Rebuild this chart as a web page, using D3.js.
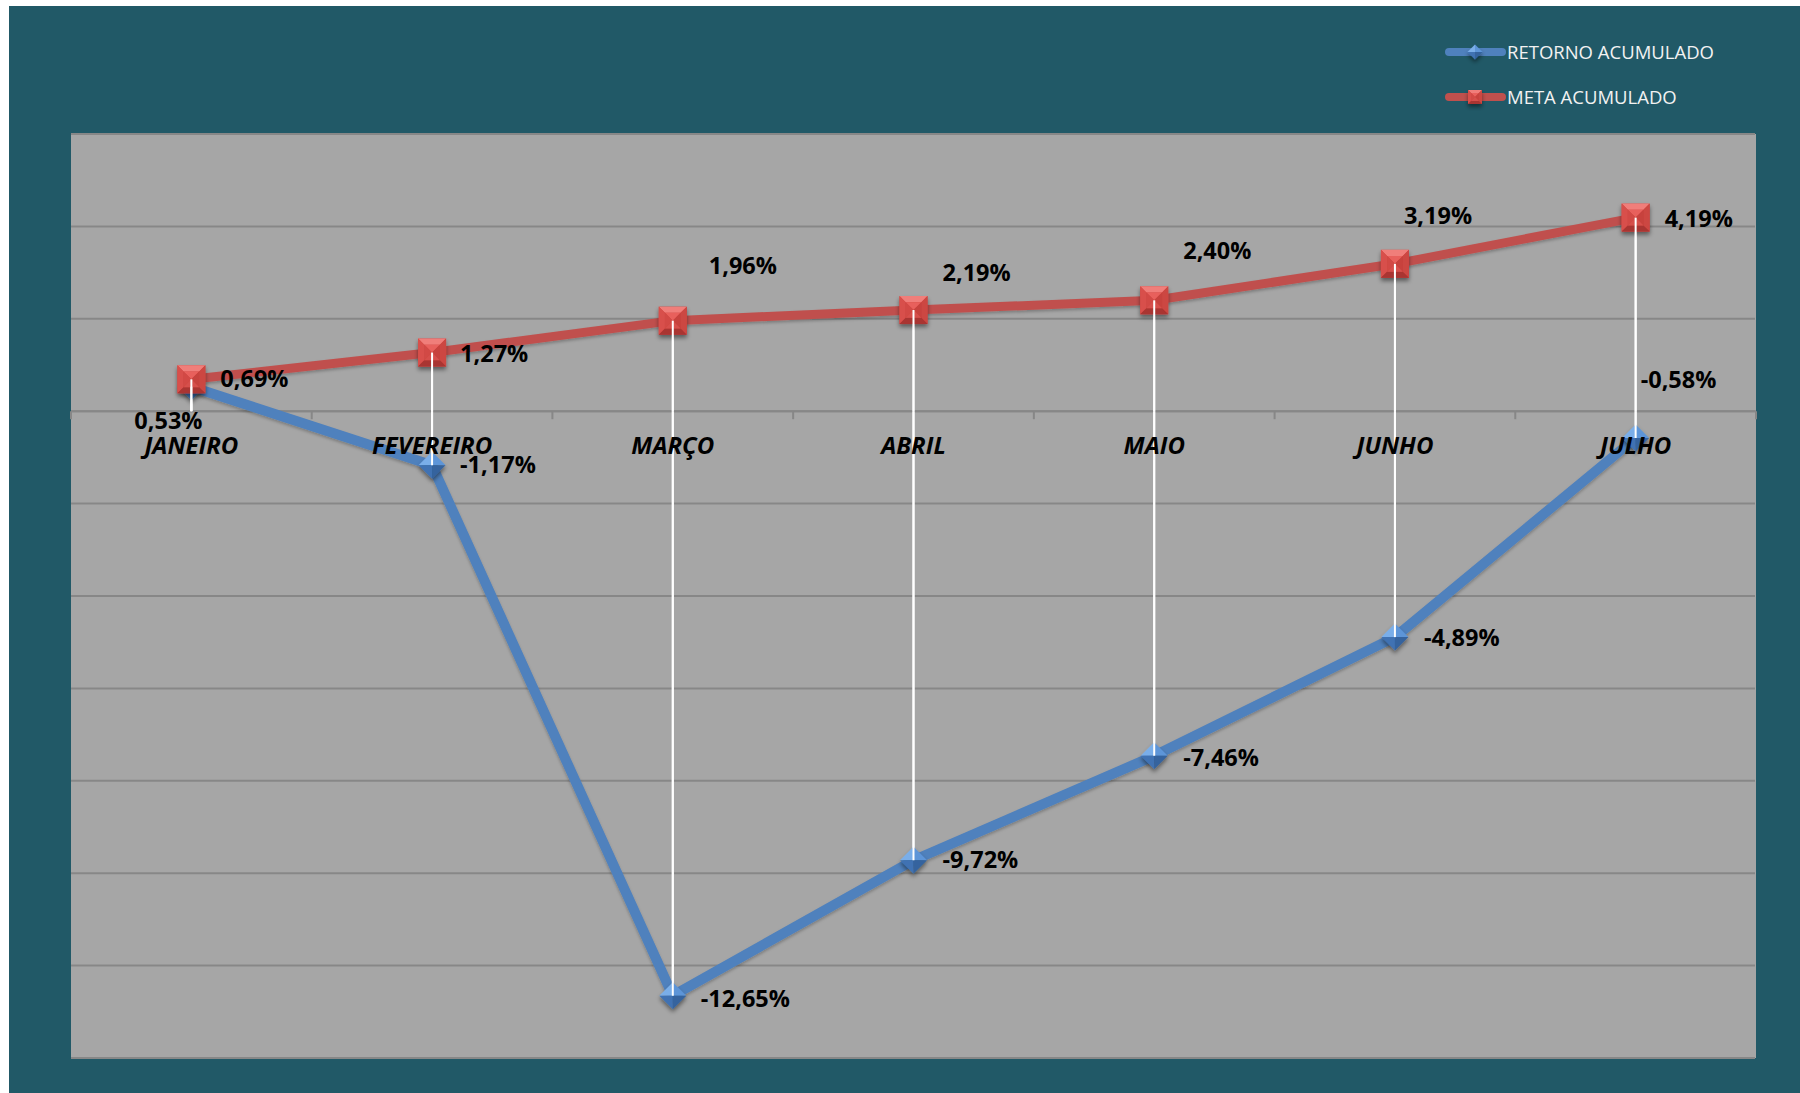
<!DOCTYPE html>
<html>
<head>
<meta charset="utf-8">
<script src="https://cdn.jsdelivr.net/npm/d3@7"></script>
<style>
  html, body { margin: 0; padding: 0; background: #ffffff; }
  svg { display: block; }
</style>
</head>
<body>
<svg id="chart" width="1800" height="1093"></svg>
<script>
// ---------- data ----------
const months = ["JANEIRO", "FEVEREIRO", "MARÇO", "ABRIL", "MAIO", "JUNHO", "JULHO"];
const retornoAcumulado = [0.53, -1.17, -12.65, -9.72, -7.46, -4.89, -0.58];
const metaAcumulado = [0.69, 1.27, 1.96, 2.19, 2.40, 3.19, 4.19];
const seriesNames = ["RETORNO ACUMULADO", "META ACUMULADO"];
const yTicks = [-14, -12, -10, -8, -6, -4, -2, 0, 2, 4, 6];

// label placement (layout, offsets from marker centre)
const retornoLabelOffsets = [[-57, 42], [28, 8], [28, 11], [29, 8], [29, 10], [29, 9], [5, -50]];
const metaLabelOffsets = [[29, 8], [28, 9], [36, -47], [29, -29], [29, -41], [9, -40], [29, 9]];

// ---------- layout ----------
const W = 1800, H = 1093;
const plot = { left: 71, right: 1756, top: 134, bottom: 1058 };
const colors = {
  frame: "#215967", plotBg: "#a6a6a6", grid: "#878787",
  blue: "#4f81bd", red: "#c0504d", text: "#000000", legendText: "#f2f2f2"
};
const fmt = v => v.toFixed(2).replace(".", ",") + "%";

const svg = d3.select("#chart");
const defs = svg.append("defs");
const sh = defs.append("filter").attr("id", "mshadow")
  .attr("x", "-50%").attr("y", "-50%").attr("width", "200%").attr("height", "200%");
sh.append("feDropShadow").attr("dx", 0).attr("dy", 3).attr("stdDeviation", 2.2)
  .attr("flood-color", "#000").attr("flood-opacity", 0.45);
const lsh = defs.append("filter").attr("id", "lshadow")
  .attr("x", "-5%").attr("y", "-5%").attr("width", "110%").attr("height", "110%");
lsh.append("feDropShadow").attr("dx", 0).attr("dy", 2).attr("stdDeviation", 1.5)
  .attr("flood-color", "#000").attr("flood-opacity", 0.25);

// background frame
svg.append("rect").attr("x", 9).attr("y", 6).attr("width", W - 9).attr("height", H - 6)
  .attr("fill", colors.frame);

// plot area
svg.append("rect").attr("x", plot.left).attr("y", plot.top)
  .attr("width", plot.right - plot.left).attr("height", plot.bottom - plot.top)
  .attr("fill", colors.plotBg);

const x = d3.scaleBand().domain(months).range([plot.left, plot.right]).padding(0);
const cx = m => x(m) + x.bandwidth() / 2;
const y = d3.scaleLinear().domain([-14, 6]).range([plot.bottom, plot.top]);

// gridlines
svg.append("g").selectAll("line").data(yTicks).join("line")
  .attr("x1", plot.left).attr("x2", plot.right - 1)
  .attr("y1", d => y(d)).attr("y2", d => y(d))
  .attr("stroke", colors.grid).attr("stroke-width", 2);

// category axis at zero with tick marks between categories
const axisG = svg.append("g").attr("transform", `translate(0,${y(0)})`);
const boundaries = months.map(m => x(m)).concat([plot.right]);
axisG.append("line").attr("x1", plot.left).attr("x2", plot.right).attr("y1", 0).attr("y2", 0)
  .attr("stroke", colors.grid).attr("stroke-width", 2);
axisG.selectAll("line.tick").data(boundaries).join("line").attr("class", "tick")
  .attr("x1", d => d).attr("x2", d => d).attr("y1", 0).attr("y2", 8)
  .attr("stroke", colors.grid).attr("stroke-width", 2);

// drop lines (white) from each point to the axis
const dropG = svg.append("g");
months.forEach((m, i) => {
  [retornoAcumulado[i], metaAcumulado[i]].forEach(v => {
    dropG.append("line").attr("x1", cx(m)).attr("x2", cx(m))
      .attr("y1", y(v)).attr("y2", y(0))
      .attr("stroke", "#ffffff").attr("stroke-width", 2);
  });
});

// lines
const lineGen = d3.line().x((d, i) => cx(months[i])).y(d => y(d));
svg.append("path").datum(retornoAcumulado).attr("d", lineGen)
  .attr("fill", "none").attr("stroke", colors.blue).attr("stroke-width", 10)
  .attr("stroke-linejoin", "round").attr("filter", "url(#lshadow)");
svg.append("path").datum(metaAcumulado).attr("d", lineGen)
  .attr("fill", "none").attr("stroke", colors.red).attr("stroke-width", 9)
  .attr("stroke-linejoin", "round").attr("filter", "url(#lshadow)");

// marker drawing helpers (bevelled)
function diamond(g, px, py, r) {
  const mg = g.append("g").attr("transform", `translate(${px},${py})`).attr("filter", "url(#mshadow)");
  const T = [0, -r], R = [r, 0], B = [0, r], L = [-r, 0], C = [0, 0];
  const faces = [
    [[T, R, C], "#5d95d8"],
    [[T, L, C], "#7aaee9"],
    [[L, B, C], "#3f72b3"],
    [[R, B, C], "#34639e"]
  ];
  faces.forEach(([pts, c]) => mg.append("path")
    .attr("d", "M" + pts.map(p => p.join(",")).join("L") + "Z").attr("fill", c));
}
function square(g, px, py, s) {
  const h = s / 2, b = s * 0.22;
  const mg = g.append("g").attr("transform", `translate(${px},${py})`).attr("filter", "url(#mshadow)");
  mg.append("rect").attr("x", -h).attr("y", -h).attr("width", s).attr("height", s).attr("fill", "#c8433f");
  const TL = [-h, -h], TR = [h, -h], BR = [h, h], BL = [-h, h];
  const iTL = [-h + b, -h + b], iTR = [h - b, -h + b], iBR = [h - b, h - b], iBL = [-h + b, h - b];
  const faces = [
    [[TL, TR, iTR, iTL], "#f07e7a"],
    [[TL, iTL, iBL, BL], "#d8504b"],
    [[TR, BR, iBR, iTR], "#cc4742"],
    [[BL, iBL, iBR, BR], "#a93430"],
    [[iTL, iTR, [0, 0]], "#e8605b"],
    [[iTL, iBL, [0, 0]], "#d24a45"],
    [[iTR, iBR, [0, 0]], "#c7423d"],
    [[iBL, iBR, [0, 0]], "#d6504b"]
  ];
  faces.forEach(([pts, c]) => mg.append("path")
    .attr("d", "M" + pts.map(p => p.join(",")).join("L") + "Z").attr("fill", c));
}

const markG = svg.append("g");
retornoAcumulado.forEach((v, i) => diamond(markG, cx(months[i]), y(v), 13.5));
metaAcumulado.forEach((v, i) => square(markG, cx(months[i]), y(v), 28));

// white drop line visible over markers (as in reference)
months.forEach((m, i) => {
  [retornoAcumulado[i], metaAcumulado[i]].forEach(v => {
    const y0 = y(v), y1 = y(0);
    markG.append("line").attr("x1", cx(m)).attr("x2", cx(m))
      .attr("y1", y0 < y1 ? y0 : y1).attr("y2", y0 < y1 ? y1 : y0)
      .attr("stroke", "#ffffff").attr("stroke-width", 2);
  });
});

// data labels
const labelFont = "'Open Sans', 'Liberation Sans', sans-serif";
const labG = svg.append("g").attr("font-family", labelFont).attr("font-weight", 700)
  .attr("font-size", 23.5).attr("fill", colors.text);
retornoAcumulado.forEach((v, i) => {
  const [dx, dy] = retornoLabelOffsets[i];
  labG.append("text").attr("x", cx(months[i]) + dx).attr("y", y(v) + dy).text(fmt(v));
});
metaAcumulado.forEach((v, i) => {
  const [dx, dy] = metaLabelOffsets[i];
  labG.append("text").attr("x", cx(months[i]) + dx).attr("y", y(v) + dy).text(fmt(v));
});

// category labels
svg.append("g").attr("font-family", labelFont).attr("font-weight", 700)
  .attr("font-style", "italic").attr("font-size", 24).attr("fill", colors.text)
  .selectAll("text").data(months).join("text")
  .attr("x", d => cx(d)).attr("y", y(0) + 43).attr("text-anchor", "middle").text(d => d);

// legend
const legend = svg.append("g");
const legendRows = [
  { name: seriesNames[0], color: colors.blue, y: 52, kind: "diamond" },
  { name: seriesNames[1], color: colors.red, y: 97, kind: "square" }
];
legendRows.forEach(r => {
  legend.append("line").attr("x1", 1449).attr("x2", 1502).attr("y1", r.y).attr("y2", r.y)
    .attr("stroke", r.color).attr("stroke-width", 8).attr("stroke-linecap", "round");
  if (r.kind === "diamond") diamond(legend, 1475, r.y, 7.5);
  else square(legend, 1475, r.y, 14);
  legend.append("text").attr("x", 1507).attr("y", r.y + 7)
    .attr("font-family", labelFont).attr("font-size", 18.5).attr("fill", colors.legendText)
    .text(r.name);
});
</script>
</body>
</html>
